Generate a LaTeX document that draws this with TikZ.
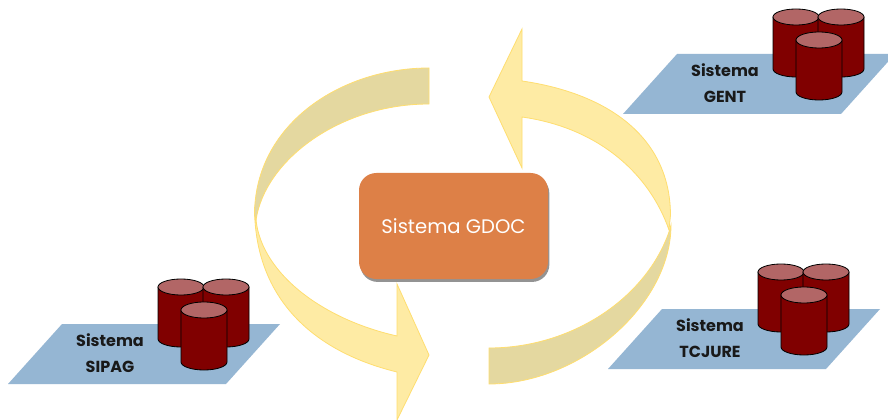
\documentclass[tikz,border=0pt]{standalone}
\usepackage{fontspec}
\setmainfont{Poppins}
\usepackage{tikz}
\usetikzlibrary{shadows}
\definecolor{arrowfill}{HTML}{FEEBA4}
\definecolor{arrowdark}{HTML}{E4D8A0}
\definecolor{arrowline}{HTML}{FFDE70}
\definecolor{platefill}{HTML}{95B6D3}
\definecolor{gdocfill}{HTML}{DD8047}
\definecolor{cylfill}{HTML}{800000}
\definecolor{cyltop}{HTML}{B26666}
\tikzset{
    flowarrow/.style={fill=arrowfill, draw=arrowline, line width=0.6pt},
    flowback/.style={fill=arrowdark, draw=arrowline, line width=0.6pt},
    plate/.style={fill=platefill, draw=none},
    cylbody/.style={fill=cylfill, draw=black, line width=0.6pt},
    cyllid/.style={fill=cyltop, draw=black, line width=0.6pt},
    platelabel/.style={font=\fontsize{12}{19.5}\selectfont\bfseries, align=center, text=black!90},
    gdocbox/.style={fill=gdocfill, rounded corners=13pt, minimum width=141.75pt, minimum height=79.5pt,
        text=white, font=\fontsize{14.7}{17}\selectfont, drop shadow={shadow xshift=1pt, shadow yshift=-2.2pt, opacity=0.6, fill=black!70}}
}
% one cylinder, (#1,#2) is the centre of its lid
\newcommand{\dbcyl}[2]{
    \draw[cylbody] (#1-23,#2) -- (#1-23,#2+52) arc[start angle=180, end angle=0, x radius=23, y radius=8] -- (#1+23,#2) -- cycle;
    \draw[cyllid] (#1,#2) ellipse[x radius=23, y radius=8];
}
% plate with three cylinders, shifted from the upper right one
\newcommand{\dbplate}[2]{
    \begin{scope}[shift={(#1,#2)}]
        \draw[plate] (677,54) -- (895,54) -- (841,114) -- (623,114) -- cycle;
        \dbcyl{796}{17}
        \dbcyl{841}{17}
        \dbcyl{819}{40}
    \end{scope}
}
\begin{document}
\begin{tikzpicture}[x=0.75pt, y=-0.75pt]
    \clip (0,0) rectangle (888,420);
    \fill[white] (0,0) rectangle (888,420);

    % plates
    \dbplate{0}{0}
    \dbplate{-15}{255}
    \dbplate{-615}{270}
    \node[platelabel] (gent) at (725,83) {Sistema\\GENT};
    \node[platelabel] (tcjure) at (710,338) {Sistema\\TCJURE};
    \node[platelabel] (sipag) at (110,353) {Sistema\\SIPAG};

    % left half of the loop
    \draw[flowarrow] (254.5,207) .. controls (254.5,300) and (315,352) .. (397,372)
        -- (397,420) -- (429,355) -- (397,284) -- (397,336)
        .. controls (325,320) and (262,275) .. (256,220) -- cycle;
    \draw[flowback] (429,68) .. controls (340,68) and (254.5,125) .. (254.5,215)
        -- (256,220) .. controls (265,160) and (340,104) .. (429,104) -- cycle;

    % right half of the loop
    \draw[flowback] (489,384) .. controls (580,384) and (671,305) .. (671,225)
        -- (669,232) .. controls (645,300) and (570,348) .. (489,348) -- cycle;
    \draw[flowarrow] (670.5,215) .. controls (670,135) and (605,93) .. (522,81)
        -- (522,29) -- (489,97) -- (522,168) -- (522,117)
        .. controls (600,128) and (650,175) .. (669,230) -- cycle;

    \node[gdocbox] (gdoc) at (453.5,226) {Sistema GDOC};
\end{tikzpicture}
\end{document}
